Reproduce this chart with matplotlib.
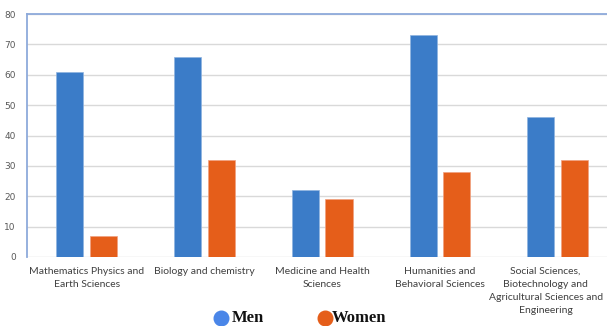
import matplotlib.pyplot as plt
import numpy as np
from matplotlib.lines import Line2D
from matplotlib.transforms import ScaledTranslation

categories = ['Mathematics Physics and\nEarth Sciences',
              'Biology and chemistry',
              'Medicine and Health\nSciences',
              'Humanities and\nBehavioral Sciences',
              'Social Sciences,\nBiotechnology and\nAgricultural Sciences and\nEngineering']
men = [61, 66, 22, 73, 46]
women = [7, 32, 19, 28, 32]

blue = '#3b7cc8'
orange = '#e55e1a'

fig = plt.figure(figsize=(6.07, 3.26), dpi=100)
ax = fig.add_axes([27/607, 1 - 257/326, 580/607, (257 - 14)/326])

x = np.arange(len(categories))
w = 0.23
off = 0.143
ax.bar(x - off, men, w, color=blue, edgecolor='#8fb3e0', linewidth=0.5, zorder=3)
ax.bar(x + off, women, w, color=orange, edgecolor='#f0a080', linewidth=0.5, zorder=3)

ax.set_xlim(-0.508, 4.42)
ax.set_ylim(0, 80)
ax.set_yticks(range(0, 81, 10))
ax.grid(axis='y', color='#d9d9d9', linewidth=1, zorder=0)
ax.tick_params(axis='y', length=0, labelsize=6.5, labelcolor='#595959', pad=8)
ax.tick_params(axis='x', length=0, pad=7)
ax.set_xticks(x)
ax.set_xticklabels(categories, fontsize=7.5, color='#404040', family='Lato',
                   linespacing=1.6)

# the last label runs into the right edge; nudge it left so it stays whole
last = ax.get_xticklabels()[-1]
last.set_transform(last.get_transform() + ScaledTranslation(-0.12, 0, fig.dpi_scale_trans))

for s in ['right', 'bottom']:
    ax.spines[s].set_visible(False)
for s in ['left', 'top']:
    ax.spines[s].set_color('#8eaadb')
    ax.spines[s].set_linewidth(1.3)

# legend drawn by hand below the chart
fig.add_artist(Line2D([221/607], [1 - 318/326], marker='o', markersize=10.5,
                      color='#4a86e8', linestyle='none', transform=fig.transFigure))
fig.text(232/607, 1 - 318/326, 'Men', fontsize=12, fontweight='bold',
         family='Liberation Serif', va='center', color='#111111')
fig.add_artist(Line2D([325/607], [1 - 318/326], marker='o', markersize=10.5,
                      color=orange, linestyle='none', transform=fig.transFigure))
fig.text(332/607, 1 - 318/326, 'Women', fontsize=12, fontweight='bold',
         family='Liberation Serif', va='center', color='#111111')

fig.savefig('out.png', dpi=100)
